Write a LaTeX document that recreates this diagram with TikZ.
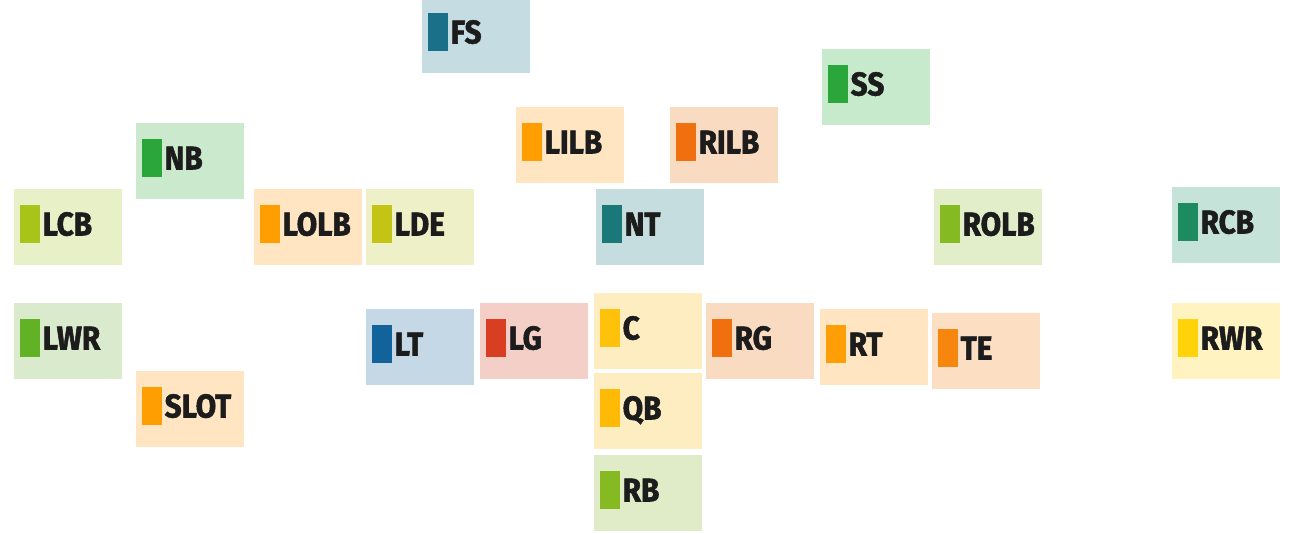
\documentclass[tikz,border=0pt]{standalone}
\usepackage{fontspec}
\newfontfamily\labfont[FakeStretch=0.9,FakeBold=1.6]{Fira Sans}
\definecolor{txt}{HTML}{1C1C1C}
\tikzset{
  posbox/.style={fill=#1, draw=none, minimum width=108pt, minimum height=76pt, inner sep=0pt, anchor=north west, rectangle},
  posbar/.style={fill=#1, draw=none, minimum width=20pt, minimum height=38pt, inner sep=0pt, anchor=north west, rectangle},
  poslab/.style={anchor=base west, inner sep=0pt, text=txt, font=\labfont\bfseries\fontsize{33}{33}\selectfont}
}
\newcommand{\posn}[6]{%
  \definecolor{#1bgc}{HTML}{#4}%
  \definecolor{#1brc}{HTML}{#5}%
  \node[posbox=#1bgc] (#1) at ({#2},{-(#3)}) {};
  \node[posbar=#1brc] (#1-bar) at ([xshift=6pt,yshift=-16pt]#1.north west) {};
  \node[poslab] (#1-lab) at ([xshift=28.5pt,yshift=-46.5pt]#1.north west) {#6};
}
\begin{document}
\begin{tikzpicture}[x=1pt,y=1pt]
\useasboundingbox (0,0) rectangle (1292,-533);
\clip (0,0) rectangle (1292,-533);
\posn{FS}{422}{-3}{C5DDE2}{1A7088}{FS}
\posn{SS}{822}{49}{C8EACC}{2AA63A}{SS}
\posn{NB}{136}{123}{CBE9CD}{2AA63A}{NB}
\posn{LILB}{516}{107}{FFE5C2}{FF9E00}{LILB}
\posn{RILB}{670}{107}{F9DBC2}{F07010}{RILB}
\posn{LCB}{14}{189}{E8F0C8}{A8C418}{LCB}
\posn{LOLB}{254}{189}{FFE5C2}{FF9E00}{LOLB}
\posn{LDE}{366}{189}{EEF0C8}{C4C414}{LDE}
\posn{NT}{596}{189}{C5DDDE}{1A7878}{NT}
\posn{ROLB}{934}{189}{E2EECA}{86BA22}{ROLB}
\posn{RCB}{1172}{187}{C5E3D8}{1E8A60}{RCB}
\posn{LWR}{14}{303}{DAEACC}{62B225}{LWR}
\posn{LT}{366}{309}{C4D8E6}{12629C}{LT}
\posn{LG}{480}{303}{F4CFC8}{DA3E22}{LG}
\posn{C}{594}{293}{FFEDC2}{FFC20A}{C}
\posn{RG}{706}{303}{F9DBC2}{F07010}{RG}
\posn{RT}{820}{309}{FFE5C2}{FF9E06}{RT}
\posn{TE}{932}{313}{FCDFC2}{F7860E}{TE}
\posn{RWR}{1172}{303}{FFF3C2}{FFD20A}{RWR}
\posn{SLOT}{136}{371}{FFE5C2}{FF9E00}{SLOT}
\posn{QB}{594}{373}{FFEDC2}{FFBA06}{QB}
\posn{RB}{594}{455}{E0ECC8}{86BA22}{RB}
\end{tikzpicture}
\end{document}
